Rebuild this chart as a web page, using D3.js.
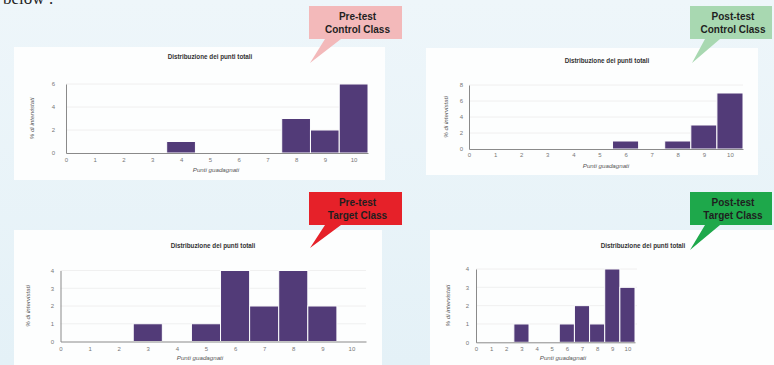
<!DOCTYPE html>
<html>
<head>
<meta charset="utf-8">
<script src="https://cdn.jsdelivr.net/npm/d3@7"></script>
<style>
  html, body { margin: 0; padding: 0; }
  body { width: 774px; height: 365px; overflow: hidden; }
</style>
</head>
<body>
<div id="chart"></div>
<script>
// data
const points = [0, 1, 2, 3, 4, 5, 6, 7, 8, 9, 10];
const preControl = [0, 0, 0, 0, 1, 0, 0, 0, 3, 2, 6];
const postControl = [0, 0, 0, 0, 0, 0, 1, 0, 1, 3, 7];
const preTarget = [0, 0, 0, 1, 0, 1, 4, 2, 4, 2, 0];
const postTarget = [0, 0, 0, 1, 0, 0, 1, 2, 1, 4, 3];
const yTicksPreControl = [0, 2, 4, 6];
const yTicksPostControl = [0, 2, 4, 6, 8];
const yTicksTarget = [0, 1, 2, 3, 4];
const calloutLabels = [
  ["Pre-test", "Control Class"],
  ["Post-test", "Control Class"],
  ["Pre-test", "Target Class"],
  ["Post-test", "Target Class"]
];
const chartTitle = "Distribuzione dei punti totali";
const xTitle = "Punti guadagnati";
const yTitle = "% di intervistati";

const width = 774, height = 365;
const barColor = "#523b78";

const svg = d3.select("#chart").append("svg")
  .attr("width", width)
  .attr("height", height)
  .attr("font-family", "'Liberation Sans', Arial, sans-serif");

// slide background
const grad = svg.append("defs").append("linearGradient")
  .attr("id", "bg").attr("x1", 0).attr("y1", 0).attr("x2", 0).attr("y2", 1);
grad.append("stop").attr("offset", "0%").attr("stop-color", "#eef6fa");
grad.append("stop").attr("offset", "100%").attr("stop-color", "#e4f1f7");
svg.append("rect").attr("width", width).attr("height", height).attr("fill", "url(#bg)");

// cut-off text from the slide above
svg.append("text")
  .attr("x", 3).attr("y", 4)
  .attr("font-family", "'Liberation Serif', serif")
  .attr("font-size", 17)
  .attr("fill", "#222")
  .text("below :");

// panel layouts (positions only)
const panels = [
  { values: preControl, yTicks: yTicksPreControl, yMax: 6,
    box: [14, 47, 371, 133], x0: 66, x1: 368, y0: 153, y1: 84,
    titleX: 210, titleY: 59, yLabX: 34, xLabX: 216, xLabY: 172, yTickX: 53, xTickY: 162,
    callout: { x: 309, y: 6, w: 93, h: 33, tip: [310, 63], base: [325, 341],
               fill: "#f3b9ba", label: calloutLabels[0] } },
  { values: postControl, yTicks: yTicksPostControl, yMax: 8,
    box: [426, 48, 332, 127], x0: 469, x1: 743, y0: 149, y1: 85,
    titleX: 607, titleY: 63, yLabX: 448, xLabX: 606, xLabY: 168, yTickX: 461, xTickY: 157,
    callout: { x: 690, y: 6, w: 82, h: 33, tip: [692, 63], base: [705, 720],
               fill: "#a8d8b1", label: calloutLabels[1] } },
  { values: preTarget, yTicks: yTicksTarget, yMax: 4,
    box: [14, 230, 368, 140], x0: 60.5, x1: 366, y0: 341.5, y1: 270.5,
    titleX: 213, titleY: 248, yLabX: 30, xLabX: 200, xLabY: 360, yTickX: 52, xTickY: 351,
    callout: { x: 309, y: 192, w: 93, h: 33, tip: [310, 248], base: [325, 341],
               fill: "#e62129", label: calloutLabels[2] } },
  { values: postTarget, yTicks: yTicksTarget, yMax: 4,
    box: [430, 230, 350, 140], x0: 476, x1: 635, y0: 342.3, y1: 269, gridX1: 637,
    titleX: 643, titleY: 248, yLabX: 450, xLabX: 563, xLabY: 360, yTickX: 467, xTickY: 351,
    callout: { x: 690, y: 192, w: 82, h: 33, tip: [690, 250], base: [705, 720],
               fill: "#1ea84b", label: calloutLabels[3] } }
];

panels.forEach(drawPanel);

function drawPanel(p) {
  const g = svg.append("g");

  g.append("rect")
    .attr("x", p.box[0]).attr("y", p.box[1])
    .attr("width", p.box[2]).attr("height", p.box[3])
    .attr("fill", "#fdfefe");

  const x = d3.scaleLinear().domain([0, 10.5]).range([p.x0, p.x1]);
  const y = d3.scaleLinear().domain([0, p.yMax]).range([p.y0, p.y1]);
  const gridEnd = p.gridX1 || p.x1;

  // gridlines
  g.append("g")
    .selectAll("line")
    .data(p.yTicks.filter(d => d > 0))
    .join("line")
    .attr("x1", p.x0).attr("x2", gridEnd)
    .attr("y1", d => y(d)).attr("y2", d => y(d))
    .attr("stroke", "#ececec")
    .attr("stroke-width", 0.8);

  // bars
  const bins = points.map((v, i) => ({ v, n: p.values[i] })).filter(d => d.n > 0);
  g.append("g")
    .selectAll("rect")
    .data(bins)
    .join("rect")
    .attr("x", d => x(d.v - 0.5))
    .attr("width", d => x(d.v + 0.5) - x(d.v - 0.5))
    .attr("y", d => y(d.n))
    .attr("height", d => y(0) - y(d.n))
    .attr("fill", barColor)
    .attr("stroke", "#fdfefe")
    .attr("stroke-width", 1);

  // axes
  const xAxis = g.append("g")
    .attr("transform", `translate(0,${p.y0})`)
    .call(d3.axisBottom(x).tickValues(points).tickFormat(d3.format("d"))
      .tickSize(0).tickPadding(p.xTickY - p.y0 - 4));
  const yAxis = g.append("g")
    .attr("transform", `translate(${p.x0},0)`)
    .call(d3.axisLeft(y).tickValues(p.yTicks).tickFormat(d3.format("d"))
      .tickSize(0).tickPadding(p.x0 - p.yTickX - 2));
  [xAxis, yAxis].forEach(a => {
    a.select(".domain").attr("stroke", "#8a8a8a").attr("stroke-width", 1);
    a.selectAll("text").attr("fill", "#777").attr("font-size", 6);
  });

  // titles
  g.append("text")
    .attr("x", p.titleX).attr("y", p.titleY)
    .attr("text-anchor", "middle")
    .attr("font-size", 6.3)
    .attr("font-weight", "bold")
    .attr("fill", "#333")
    .text(chartTitle);

  g.append("text")
    .attr("x", p.xLabX).attr("y", p.xLabY)
    .attr("text-anchor", "middle")
    .attr("font-size", 6.2)
    .attr("font-style", "italic")
    .attr("fill", "#555")
    .text(xTitle);

  g.append("text")
    .attr("transform", `translate(${p.yLabX},${(p.y0 + p.y1) / 2}) rotate(-90)`)
    .attr("text-anchor", "middle")
    .attr("font-size", 6.2)
    .attr("font-style", "italic")
    .attr("fill", "#555")
    .text(yTitle);

  // speech-bubble label
  const c = p.callout;
  const bottom = c.y + c.h;
  const path = d3.path();
  path.moveTo(c.x, c.y);
  path.lineTo(c.x + c.w, c.y);
  path.lineTo(c.x + c.w, bottom);
  path.lineTo(c.base[1], bottom);
  path.lineTo(c.tip[0], c.tip[1]);
  path.lineTo(c.base[0], bottom);
  path.lineTo(c.x, bottom);
  path.closePath();
  g.append("path").attr("d", path.toString()).attr("fill", c.fill);

  g.append("g")
    .selectAll("text")
    .data(c.label)
    .join("text")
    .attr("x", c.x + c.w / 2 + 2)
    .attr("y", (d, i) => c.y + 14 + i * 12.5)
    .attr("text-anchor", "middle")
    .attr("font-size", 10)
    .attr("font-weight", "bold")
    .attr("fill", "#1f1f1f")
    .text(d => d);
}
</script>
</body>
</html>
